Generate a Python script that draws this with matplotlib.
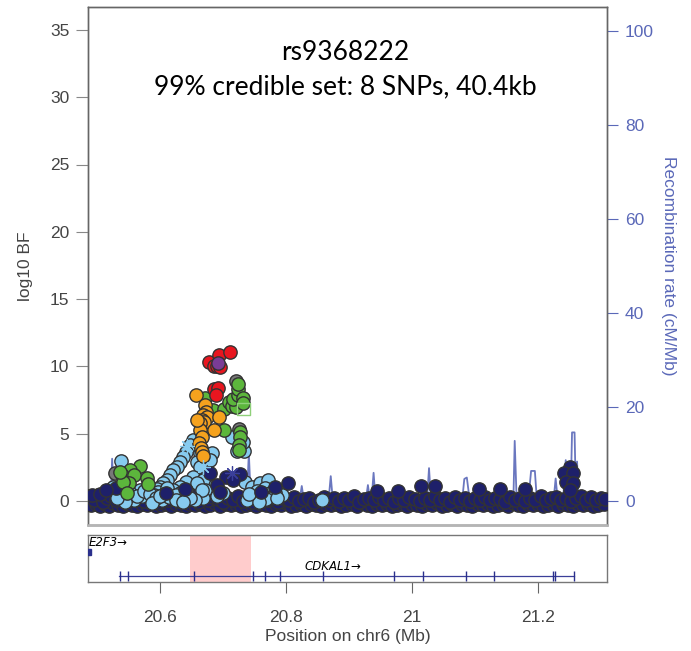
import matplotlib
matplotlib.use("Agg")
import matplotlib.pyplot as plt
from matplotlib.patches import Rectangle

# ---- SNP data (position in Mb, log10 BF), grouped by LD colour ----
navy_base_x = [20.488, 20.495, 20.501, 20.509, 20.516, 20.522, 20.530, 20.537, 20.545, 20.552,
               20.560, 20.567, 20.575, 20.583, 20.590, 20.598, 20.606, 20.613, 20.621, 20.629,
               20.637, 20.644, 20.652, 20.660, 20.668, 20.676, 20.684, 20.692, 20.700, 20.708,
               20.716, 20.724, 20.732, 20.740, 20.748, 20.756, 20.764, 20.772, 20.780, 20.788,
               20.796, 20.804, 20.812, 20.820, 20.828, 20.836, 20.844, 20.852, 20.860, 20.868,
               20.876, 20.884, 20.892, 20.900, 20.908, 20.916, 20.924, 20.932, 20.940, 20.948,
               20.956, 20.964, 20.972, 20.980, 20.988, 20.996, 21.004, 21.012, 21.020, 21.028,
               21.036, 21.044, 21.052, 21.060, 21.068, 21.076, 21.084, 21.092, 21.100, 21.108,
               21.116, 21.124, 21.132, 21.140, 21.148, 21.156, 21.164, 21.172, 21.180, 21.188,
               21.196, 21.204, 21.212, 21.220, 21.228, 21.236, 21.244, 21.252, 21.260, 21.268,
               21.276, 21.284, 21.292, 21.300, 21.307]
navy_base_y = [0.35, 0.10, 0.45, -0.05, 0.20, 0.40, 0.05, 0.30, -0.10, 0.25,
               0.10, 0.40, 0.00, 0.30, 0.15, -0.05, 0.35, 0.10, 0.45, 0.00,
               0.25, 0.10, 0.40, -0.10, 0.20, 0.05, 0.30, 0.15, -0.05, 0.25,
               0.10, 0.35, 0.00, 0.20, -0.10, 0.15, 0.30, 0.05, 0.20, -0.05,
               0.25, 0.10, 0.30, 0.00, 0.15, 0.25, -0.05, 0.10, 0.30, 0.05,
               0.20, 0.00, 0.25, 0.10, 0.35, -0.05, 0.15, 0.25, 0.05, 0.30,
               0.10, 0.20, -0.05, 0.25, 0.05, 0.30, 0.15, 0.00, 0.25, 0.10,
               0.35, 0.05, 0.20, -0.05, 0.30, 0.10, 0.25, 0.00, 0.20, 0.10,
               0.30, 0.05, 0.25, 0.15, -0.05, 0.30, 0.10, 0.20, 0.00, 0.25,
               0.10, 0.35, 0.05, 0.20, 0.30, 0.10, 0.25, 0.00, 0.20, 0.35,
               0.10, 0.30, 0.05, 0.25, 0.15]
# second, lower row of the dense baseline band
navy_low_x = [20.491, 20.498, 20.505, 20.512, 20.519, 20.526, 20.533, 20.541, 20.549, 20.556,
              20.564, 20.571, 20.579, 20.586, 20.594, 20.602, 20.610, 20.617, 20.625, 20.633,
              20.641, 20.648, 20.656, 20.664, 20.672, 20.680, 20.688, 20.696, 20.704, 20.712,
              20.720, 20.728, 20.736, 20.744, 20.752, 20.760, 20.768, 20.776, 20.784, 20.792,
              20.800, 20.808, 20.816, 20.824, 20.832, 20.840, 20.848, 20.856, 20.864, 20.872,
              20.880, 20.888, 20.896, 20.904, 20.912, 20.920, 20.928, 20.936, 20.944, 20.952,
              20.960, 20.968, 20.976, 20.984, 20.992, 21.000, 21.008, 21.016, 21.024, 21.032,
              21.040, 21.048, 21.056, 21.064, 21.072, 21.080, 21.088, 21.096, 21.104, 21.112,
              21.120, 21.128, 21.136, 21.144, 21.152, 21.160, 21.168, 21.176, 21.184, 21.192,
              21.200, 21.208, 21.216, 21.224, 21.232, 21.240, 21.248, 21.256, 21.264, 21.272,
              21.280, 21.288, 21.296, 21.304]
navy_low_y = [-0.30, -0.20, -0.35, -0.25, -0.40, -0.15, -0.30, -0.35, -0.20, -0.30,
              -0.40, -0.25, -0.30, -0.15, -0.35, -0.30, -0.20, -0.40, -0.25, -0.30,
              -0.35, -0.20, -0.30, -0.25, -0.40, -0.30, -0.15, -0.35, -0.25, -0.30,
              -0.20, -0.40, -0.30, -0.25, -0.35, -0.20, -0.30, -0.40, -0.25, -0.30,
              -0.15, -0.35, -0.30, -0.25, -0.40, -0.20, -0.30, -0.35, -0.25, -0.30,
              -0.20, -0.40, -0.30, -0.25, -0.35, -0.15, -0.30, -0.40, -0.25, -0.30,
              -0.20, -0.35, -0.30, -0.25, -0.40, -0.20, -0.30, -0.35, -0.25, -0.30,
              -0.15, -0.40, -0.30, -0.25, -0.35, -0.20, -0.30, -0.40, -0.25, -0.30,
              -0.20, -0.35, -0.30, -0.25, -0.40, -0.15, -0.30, -0.35, -0.25, -0.30,
              -0.20, -0.40, -0.30, -0.25, -0.35, -0.20, -0.30, -0.40, -0.25, -0.30,
              -0.20, -0.35, -0.30, -0.25]
navy_up_x = [20.492, 20.505, 20.679, 20.704, 20.727, 20.716, 20.803, 20.783, 20.760, 20.945,
             21.015, 21.037, 21.107, 20.978, 21.180, 21.140, 21.250, 21.241, 21.256, 21.244,
             21.256, 21.250, 20.690, 20.696, 20.530, 20.515, 20.610, 20.640]
navy_up_y = [0.45, 0.55, 2.06, 1.80, 2.00, 1.56, 1.36, 1.06, 0.70, 0.75,
             1.11, 1.14, 0.87, 0.77, 0.87, 0.87, 2.55, 2.06, 2.06, 1.43,
             1.31, 0.82, 1.20, 0.70, 1.00, 0.80, 0.60, 0.90]

lblue_x = [20.538, 20.714, 20.722, 20.734, 20.732, 20.658, 20.664, 20.682, 20.679,
           20.653, 20.648, 20.642, 20.637, 20.632, 20.627, 20.621, 20.616, 20.611, 20.605,
           20.600, 20.595, 20.658, 20.663, 20.671, 20.653, 20.642, 20.632, 20.621, 20.663,
           20.674, 20.682, 20.735, 20.746, 20.759, 20.772, 20.767, 20.775, 20.790, 20.793,
           20.783, 20.748, 20.738, 20.857, 20.669, 20.671, 20.669, 20.597, 20.611, 20.658,
           20.666, 20.656, 20.587, 20.558, 20.542, 20.603, 20.619, 20.632, 20.642, 20.579,
           20.568, 20.534, 20.526, 20.548, 20.572, 20.590, 20.764, 20.779, 20.754, 20.700,
           20.690, 20.553, 20.563, 20.575, 20.584, 20.594, 20.607, 20.615, 20.626, 20.647,
           20.545, 20.531, 20.587, 20.600, 20.625, 20.637, 20.769, 20.757, 20.786, 20.741]
lblue_y = [2.97, 4.73, 3.75, 3.75, 4.42, 4.29, 3.55, 3.55, 3.05,
           4.53, 4.16, 3.66, 3.29, 2.92, 2.55, 2.30, 1.93, 1.56, 1.32,
           1.06, 0.87, 2.92, 2.55, 1.69, 1.80, 1.43, 1.06, 0.82, 1.06,
           0.82, 1.06, 1.43, 1.06, 1.32, 1.56, 0.94, 0.57, 0.69, 0.45,
           0.57, 0.32, 0.07, 0.07, 1.56, 0.82, 0.20, 0.69, 0.94, 1.32,
           0.82, 0.07, 0.07, 0.07, 0.20, 0.07, 0.20, 0.57, 0.82, 0.57,
           0.82, 0.57, 1.06, 0.30, 0.35, 0.45, 0.40, 0.30, 0.75, 0.60,
           0.40, 0.60, 0.35, 0.75, 0.50, 0.25, 0.55, 0.30, 0.45, 0.20,
           -0.10, 0.25, -0.15, 0.40, 0.10, -0.10, 0.15, -0.05, 0.20, 0.55]

green_x = [20.671, 20.684, 20.701, 20.710, 20.714, 20.721, 20.716, 20.724, 20.724,
           20.723, 20.731, 20.731, 20.702, 20.727, 20.727, 20.726, 20.726,
           20.568, 20.552, 20.539, 20.558, 20.550, 20.542, 20.579, 20.581, 20.547, 20.537]
green_y = [7.63, 6.76, 6.86, 7.38, 7.06, 7.01, 7.56, 7.88, 8.30,
           8.67, 7.63, 7.26, 5.27, 5.15, 4.78, 4.16, 3.79,
           2.60, 2.30, 1.93, 1.93, 1.36, 1.43, 1.69, 1.26, 0.57, 2.18]
green_sq_x = [20.732]
green_sq_y = [6.83]

orange_x = [20.657, 20.671, 20.673, 20.669, 20.674, 20.666, 20.670, 20.664, 20.685,
            20.664, 20.666, 20.662, 20.665, 20.666, 20.668, 20.658, 20.693]
orange_y = [7.88, 7.13, 6.63, 6.39, 6.22, 6.02, 5.89, 5.77, 5.27,
            5.27, 4.78, 4.29, 3.92, 3.66, 3.34, 6.02, 6.22]

red_x = [20.678, 20.693, 20.711, 20.685, 20.690, 20.695, 20.685, 20.692, 20.689]
red_y = [10.35, 10.85, 11.09, 10.03, 10.03, 9.98, 8.30, 8.42, 7.88]

grey_x = [20.721, 20.726, 20.529]
grey_y = [8.94, 5.33, 2.06]

lead_x = [20.6925]
lead_y = [10.23]

ast_lb_x = [20.643, 20.669]
ast_lb_y = [4.09, 2.55]
ast_navy_x = [20.714]
ast_navy_y = [2.10]

# ---- recombination rate (cM/Mb) ----
recomb_x = [20.486, 20.500, 20.515, 20.522, 20.524, 20.527, 20.535, 20.560, 20.600, 20.640,
            20.668, 20.671, 20.674, 20.700, 20.738, 20.741, 20.744, 20.770, 20.800, 20.822,
            20.825, 20.828, 20.860, 20.868, 20.871, 20.874, 20.900, 20.927, 20.930, 20.933,
            20.936, 20.939, 20.942, 20.990, 21.024, 21.027, 21.030, 21.060, 21.080, 21.083,
            21.087, 21.091, 21.097, 21.100, 21.103, 21.150, 21.161, 21.163, 21.166, 21.185,
            21.189, 21.195, 21.198, 21.225, 21.228, 21.231, 21.240, 21.244, 21.247, 21.252,
            21.254, 21.258, 21.260, 21.262, 21.264, 21.280, 21.310]
recomb_y = [0.4, 0.5, 0.3, 1.0, 9.0, 0.8, 0.4, 0.5, 0.4, 0.6,
            0.8, 8.0, 0.6, 0.5, 0.8, 10.2, 0.7, 0.4, 0.5, 0.5,
            3.2, 0.5, 0.6, 0.8, 5.3, 0.6, 0.4, 0.5, 3.4, 0.5,
            0.6, 6.0, 0.5, 0.4, 0.6, 7.0, 0.5, 0.5, 0.6, 4.7,
            5.0, 0.8, 0.6, 2.5, 0.5, 0.5, 0.8, 12.8, 0.6, 0.6,
            6.4, 6.4, 0.6, 0.6, 4.8, 0.6, 0.8, 8.7, 0.8, 2.0,
            14.6, 14.6, 2.0, 8.4, 0.8, 0.5, 0.4]

# ---- genes ----
cdkal1_start, cdkal1_end = 20.535, 21.257
cdkal1_exons = [20.5365, 20.5497, 20.6544, 20.7471, 20.7671, 20.791, 20.8592, 20.9719,
                21.0179, 21.0857, 21.1306, 21.2233, 21.227, 21.257]
e2f3_start, e2f3_end = 20.480, 20.491
cred_start, cred_end = 20.6476, 20.744

XMIN, XMAX = 20.4857, 21.3095

TXT = "#444444"
RECOMB = "#5a68b8"
EDGE = "#333333"
MS = 92

fig = plt.figure(figsize=(6.91, 6.51), dpi=100)
ax = fig.add_axes([88 / 691, 1 - 525 / 651, 519 / 691, 518 / 651])
ax2 = ax.twinx()
ax.set_zorder(ax2.get_zorder() + 1)
ax.patch.set_visible(False)

ax2.plot(recomb_x, recomb_y, color=RECOMB, lw=1.3, alpha=0.9)

def pts(x, y, fc, marker="o", ec=EDGE, s=MS, z=3):
    ax.scatter(x, y, s=s, c=fc, edgecolors=ec, linewidths=1.0, marker=marker, zorder=z)

pts(navy_low_x, navy_low_y, "#1e206a")
pts(navy_base_x, navy_base_y, "#1e206a")
pts(lblue_x, lblue_y, "#87cbef")
pts(navy_up_x, navy_up_y, "#1e206a")
pts(grey_x, grey_y, "#787878")
pts(green_x, green_y, "#5cb63c")
pts(orange_x, orange_y, "#f5a21e")
pts(red_x, red_y, "#e8161f")
pts(lead_x, lead_y, "#7a3c95", z=4)
ax.scatter(green_sq_x, green_sq_y, s=85, marker="s", facecolors="none",
           edgecolors="#8fd07a", linewidths=1.0, zorder=4)
ax.scatter(ast_lb_x, ast_lb_y, s=100, marker=(8, 2, 0), c="#87cbef", linewidths=0.9, zorder=3)
ax.scatter(ast_navy_x, ast_navy_y, s=100, marker=(8, 2, 0), c="#3a3f9a", linewidths=0.9, zorder=3)

ax.set_xlim(XMIN, XMAX)
ax.set_ylim(-1.78, 36.7)
ax2.set_ylim(-5.1, 105.1)
ax.set_yticks([0, 5, 10, 15, 20, 25, 30, 35])
ax2.set_yticks([0, 20, 40, 60, 80, 100])
ax.set_xticks([])

lab_font = ["Liberation Sans", "DejaVu Sans"]
for a in (ax, ax2):
    for sp in a.spines.values():
        sp.set_color("#666666")
        sp.set_linewidth(1.0)
    a.spines["bottom"].set_color("#b5b5b5")
    a.spines["bottom"].set_linewidth(1.8)
ax.tick_params(axis="y", length=8.5, width=0.8, color="#888888", labelsize=12.5,
               labelcolor=TXT, pad=5)
ax2.tick_params(axis="y", length=8, width=0.8, color=RECOMB, labelsize=12.5,
                labelcolor=RECOMB, pad=5)
for t in ax.get_yticklabels() + ax2.get_yticklabels():
    t.set_family(lab_font)
ax.set_ylabel("log10 BF", fontsize=12.5, color=TXT, family=lab_font, labelpad=12)
ax2.set_ylabel("Recombination rate (cM/Mb)", fontsize=12.5, color=RECOMB,
               family=lab_font, rotation=270, labelpad=16)

title_font = ["Lato", "DejaVu Sans"]
ax.text(0.496, 0.912, "rs9368222", transform=ax.transAxes, ha="center", va="center",
        fontsize=19, family=title_font, color="black")
ax.text(0.496, 0.845, "99% credible set: 8 SNPs, 40.4kb", transform=ax.transAxes,
        ha="center", va="center", fontsize=19, family=title_font, color="black")

# ---- gene panel ----
gx = fig.add_axes([88 / 691, 1 - 582 / 651, 519 / 691, 47 / 651])
gx.set_xlim(XMIN, XMAX)
gx.set_ylim(0, 1)
gx.axvspan(cred_start, cred_end, color="#ffcccc", lw=0, zorder=1)
gx.add_patch(Rectangle((e2f3_start, 0.58), e2f3_end - e2f3_start, 0.12,
                       facecolor="#2a2f8c", edgecolor="#2a2f8c", zorder=3))
gx.text(20.4875, 0.83, "E2F3\u2192", fontsize=8.5, style="italic", va="center",
        ha="left", family=["DejaVu Sans"], color="black", zorder=4)
gx.plot([cdkal1_start, cdkal1_end], [0.13, 0.13], color="#3b3f99", lw=0.9, zorder=3)
gx.scatter(cdkal1_exons, [0.13] * len(cdkal1_exons), marker="|", s=45,
           color="#2a2f8c", linewidths=1.0, zorder=3)
gx.text(20.875, 0.32, "CDKAL1\u2192", fontsize=8.5, style="italic", va="center",
        ha="center", family=["DejaVu Sans"], color="black", zorder=4)
gx.set_yticks([])
gx.set_xticks([20.6, 20.8, 21.0, 21.2])
gx.set_xticklabels(["20.6", "20.8", "21", "21.2"])
gx.tick_params(axis="x", length=8, width=0.8, color="#666666", labelsize=12.5,
               labelcolor=TXT, pad=12)
for t in gx.get_xticklabels():
    t.set_family(lab_font)
for sp in gx.spines.values():
    sp.set_color("#777777")
    sp.set_linewidth(1.0)
gx.set_xlabel("Position on chr6 (Mb)", fontsize=12.5, color=TXT, family=lab_font,
              labelpad=3)

fig.savefig("out.png", dpi=100, facecolor="white")
